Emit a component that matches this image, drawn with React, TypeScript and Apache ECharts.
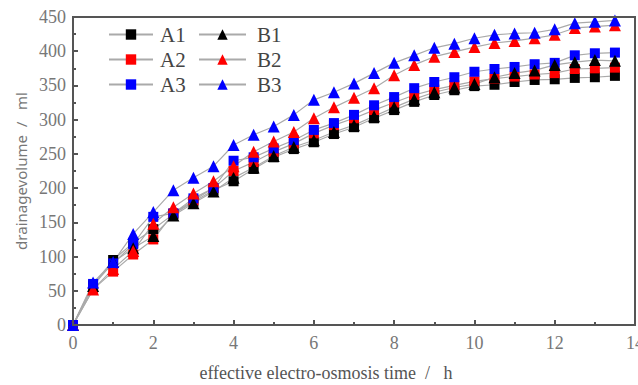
import React, { useEffect, useRef } from "react";
import * as echarts from "echarts";

const times = [0, 0.5, 1, 1.5, 2, 2.5, 3, 3.5, 4, 4.5, 5, 5.5, 6, 6.5, 7, 7.5, 8, 8.5, 9, 9.5, 10, 10.5, 11, 11.5, 12, 12.5, 13, 13.5];
const A1 = [0, 58, 95, 120, 140, 162, 180, 197, 210, 228, 245, 257, 267, 279, 289, 302, 314, 326, 336, 343, 349, 351, 355, 358, 359, 361, 362, 364];
const A2 = [0, 52, 78, 103, 125, 163, 182, 200, 225, 238, 253, 265, 280, 292, 302, 314, 325, 336, 344, 350, 356, 360, 363, 366, 368, 374, 375, 376];
const A3 = [0, 60, 90, 118, 158, 163, 185, 200, 240, 245, 258, 270, 285, 295, 307, 321, 333, 346, 355, 362, 370, 374, 377, 381, 383, 394, 397, 398];
const B1 = [0, 57, 92, 112, 130, 160, 178, 195, 215, 230, 247, 260, 270, 282, 292, 305, 318, 330, 340, 347, 352, 362, 368, 372, 380, 384, 387, 386];
const B2 = [0, 52, 82, 108, 148, 172, 192, 210, 232, 253, 268, 282, 302, 318, 332, 346, 365, 380, 392, 399, 406, 412, 415, 419, 424, 434, 436, 438];
const B3 = [0, 62, 92, 133, 165, 197, 215, 232, 263, 278, 290, 307, 329, 340, 353, 368, 383, 394, 405, 411, 419, 424, 426, 427, 432, 441, 443, 445];

const seriesDefs = [
  { name: "A1", data: A1, color: "#000000", symbol: "rect" },
  { name: "A2", data: A2, color: "#ff0000", symbol: "rect" },
  { name: "A3", data: A3, color: "#0000ff", symbol: "rect" },
  { name: "B1", data: B1, color: "#000000", symbol: "triangle" },
  { name: "B2", data: B2, color: "#ff0000", symbol: "triangle" },
  { name: "B3", data: B3, color: "#0000ff", symbol: "triangle" },
];

const W = 638;
const H = 385;
const GRID = { left: 73, right: 3, top: 17, bottom: 60 };

export default function App() {
  const ref = useRef<HTMLDivElement>(null);
  useEffect(() => {
    if (!ref.current) return;
    const chart = echarts.init(ref.current, undefined, { renderer: "svg" });
    const legendText = { fontFamily: "Liberation Serif", fontSize: 21, color: "#444" };
    chart.setOption({
      animation: false,
      backgroundColor: "#ffffff",
      grid: {
        ...GRID,
        containLabel: false,
        outerBoundsMode: "none",
        show: true,
        borderColor: "#555",
        borderWidth: 2,
        backgroundColor: "transparent",
      },
      graphic: [
        {
          type: "rect",
          silent: true,
          z: 100,
          shape: {
            x: GRID.left,
            y: GRID.top,
            width: W - GRID.left - GRID.right,
            height: H - GRID.top - GRID.bottom,
          },
          style: { fill: "transparent", stroke: "#555", lineWidth: 2 },
        },
      ],
      legend: [
        {
          data: ["A1", "A2", "A3"],
          orient: "vertical",
          left: 108,
          top: 24,
          padding: 0,
          itemWidth: 44,
          itemHeight: 13,
          itemGap: 4,
          textStyle: { ...legendText, padding: [0, 0, 0, 2] },
        },
        {
          data: ["B1", "B2", "B3"],
          orient: "vertical",
          left: 198,
          top: 24,
          padding: 0,
          itemWidth: 47,
          itemHeight: 13,
          itemGap: 4,
          textStyle: { ...legendText, padding: [0, 0, 0, 6] },
        },
      ],
      xAxis: {
        type: "value",
        min: 0,
        max: 14,
        interval: 2,
        name: "effective electro-osmosis time  /   h",
        nameLocation: "middle",
        nameGap: 39,
        nameTextStyle: { fontFamily: "Liberation Serif", fontSize: 18, color: "#555", padding: [0, 56, 0, 0] },
        axisLine: { onZero: false, lineStyle: { color: "#555", width: 2 } },
        axisTick: { inside: true, length: 5, lineStyle: { color: "#555", width: 2 } },
        minorTick: { show: true, splitNumber: 2, length: 3, lineStyle: { color: "#555", width: 2 } },
        splitLine: { show: false },
        axisLabel: { fontFamily: "Liberation Serif", fontSize: 18, color: "#777", margin: 9 },
      },
      yAxis: {
        type: "value",
        min: 0,
        max: 450,
        interval: 50,
        name: "drainagevolume  /   ml",
        nameLocation: "middle",
        nameGap: 43,
        nameTextStyle: { fontFamily: "Noto Sans", fontSize: 15, color: "#777" },
        axisLine: { onZero: false, lineStyle: { color: "#555", width: 2 } },
        axisTick: { inside: true, length: 5, lineStyle: { color: "#555", width: 2 } },
        minorTick: { show: true, splitNumber: 2, length: 3, lineStyle: { color: "#555", width: 2 } },
        splitLine: { show: false },
        axisLabel: { fontFamily: "Liberation Serif", fontSize: 18, color: "#777", margin: 7 },
      },
      series: seriesDefs.map((s) => ({
        name: s.name,
        type: "line",
        data: times.map((t, i) => [t, s.data[i]]),
        symbol: s.symbol,
        symbolSize: s.symbol === "rect" ? 10 : 12,
        itemStyle: { color: s.color },
        lineStyle: { color: "#aaaaaa", width: 1.2 },
      })),
    });
    return () => chart.dispose();
  }, []);
  return <div ref={ref} style={{ position: "fixed", left: 0, top: 0, width: W, height: H }} />;
}
